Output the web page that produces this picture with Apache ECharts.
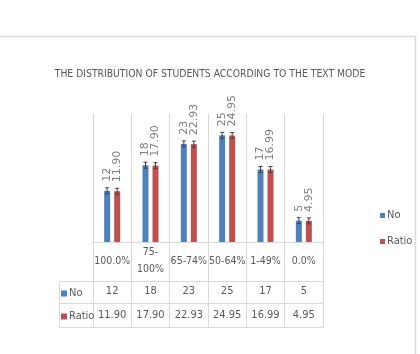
<!DOCTYPE html>
<html>
<head>
<meta charset="utf-8">
<script src="https://cdn.jsdelivr.net/npm/echarts@6/dist/echarts.min.js"></script>
<style>
  html, body { margin: 0; padding: 0; background: #fff; }
  #chart { width: 420px; height: 354px; }
</style>
</head>
<body>
<div id="chart"></div>
<script>
// Data
const categories = ['100.0%', '75-100%', '65-74%', '50-64%', '1-49%', '0.0%'];
const noValues = [12, 18, 23, 25, 17, 5];
const ratioValues = [11.90, 17.90, 22.93, 24.95, 16.99, 4.95];
const errorSize = 0.7;

const narrow = "'Liberation Sans Narrow', 'DejaVu Sans Condensed', 'Liberation Sans', sans-serif";
const textGray = '#595959';
const lineGray = '#d9d9d9';
const blue = '#4F81BD';
const red = '#C0504D';

const barWidth = 6;
const barOffset = 5; // half of bar + gap

// error bar drawn around each bar top
function errorBar(offset) {
    return function (params, api) {
        const idx = api.value(0);
        const val = api.value(1);
        const hi = api.coord([idx, val + errorSize]);
        const lo = api.coord([idx, val - errorSize]);
        const x = hi[0] + offset;
        const style = { stroke: '#404040', lineWidth: 1 };
        return {
            type: 'group',
            children: [
                { type: 'line', shape: { x1: x, y1: hi[1], x2: x, y2: lo[1] }, style: style },
                { type: 'line', shape: { x1: x - 2, y1: hi[1], x2: x + 2, y2: hi[1] }, style: style },
                { type: 'line', shape: { x1: x - 2, y1: lo[1], x2: x + 2, y2: lo[1] }, style: style }
            ]
        };
    };
}

const chart = echarts.init(document.getElementById('chart'));
var option = {
    animation: false,
    title: {
        text: 'THE DISTRIBUTION OF STUDENTS ACCORDING TO THE TEXT MODE',
        left: 'center',
        top: 64,
        textStyle: {
            fontFamily: narrow,
            fontSize: 10.3,
            fontWeight: 'normal',
            color: textGray
        }
    },
    legend: [
        {
            data: ['No', 'Ratio'],
            orient: 'vertical',
            left: 375,
            top: 205,
            itemWidth: 5,
            itemHeight: 5,
            itemGap: 15,
            icon: 'rect',
            selectedMode: false,
            textStyle: { fontFamily: narrow, fontSize: 11, color: textGray, padding: [0, 0, 0, -3] }
        },
        {
            data: ['No', 'Ratio'],
            orient: 'vertical',
            left: 56,
            top: 283,
            itemWidth: 6,
            itemHeight: 6,
            itemGap: 12,
            icon: 'rect',
            selectedMode: false,
            textStyle: { fontFamily: narrow, fontSize: 11, color: textGray, padding: [0, 0, 0, -3] }
        }
    ],
    grid: {
        left: 93,
        right: 97,
        top: 114,
        bottom: 112
    },
    xAxis: [
        {
            type: 'category',
            data: categories,
            axisLine: { show: true, lineStyle: { color: lineGray } },
            axisTick: { show: true, interval: 0, length: 85, lineStyle: { color: lineGray } },
            splitLine: { show: true, interval: 0, lineStyle: { color: lineGray } },
            axisLabel: {
                interval: 0,
                margin: 19,
                verticalAlign: 'middle',
                lineHeight: 17,
                fontFamily: narrow,
                fontSize: 10.5,
                color: textGray,
                formatter: function (v) { return v === '75-100%' ? '75-\n100%' : v; }
            }
        },
        {
            type: 'category',
            position: 'bottom',
            offset: 44,
            data: noValues.map(String),
            axisLine: { show: false },
            axisTick: { show: false },
            axisLabel: { interval: 0, margin: 0, fontFamily: narrow, fontSize: 11, color: textGray }
        },
        {
            type: 'category',
            position: 'bottom',
            offset: 68,
            data: ratioValues.map(function (v) { return v.toFixed(2); }),
            axisLine: { show: false },
            axisTick: { show: false },
            axisLabel: { interval: 0, margin: 0, fontFamily: narrow, fontSize: 11, color: textGray }
        }
    ],
    yAxis: {
        type: 'value',
        min: 0,
        max: 30,
        show: false
    },
    series: [
        {
            name: 'No',
            type: 'bar',
            data: noValues,
            barWidth: barWidth,
            barGap: '67%',
            itemStyle: { color: blue },
            label: {
                show: true,
                position: 'top',
                rotate: 90,
                align: 'left',
                verticalAlign: 'middle',
                distance: 9,
                fontFamily: 'DejaVu Sans',
                fontSize: 11,
                color: '#7f7f7f'
            }
        },
        {
            name: 'Ratio',
            type: 'bar',
            data: ratioValues,
            barWidth: barWidth,
            itemStyle: { color: red },
            label: {
                show: true,
                position: 'top',
                rotate: 90,
                align: 'left',
                verticalAlign: 'middle',
                distance: 9,
                fontFamily: 'DejaVu Sans',
                fontSize: 11,
                color: '#7f7f7f',
                formatter: function (p) { return p.value.toFixed(2); }
            }
        },
        {
            type: 'custom',
            renderItem: errorBar(-barOffset),
            data: noValues.map(function (v, i) { return [i, v]; }),
            z: 10
        },
        {
            type: 'custom',
            renderItem: errorBar(barOffset),
            data: ratioValues.map(function (v, i) { return [i, v]; }),
            z: 10
        }
    ],
    graphic: [
        // chart frame
        { type: 'line', shape: { x1: 0, y1: 36.5, x2: 415.5, y2: 36.5 }, style: { stroke: lineGray, lineWidth: 1.5 } },
        { type: 'line', shape: { x1: 415.5, y1: 36.5, x2: 415.5, y2: 354 }, style: { stroke: lineGray, lineWidth: 1.5 } },
        // data table rows
        { type: 'line', shape: { x1: 59.5, y1: 281.5, x2: 323.5, y2: 281.5 }, style: { stroke: lineGray } },
        { type: 'line', shape: { x1: 59.5, y1: 303.5, x2: 323.5, y2: 303.5 }, style: { stroke: lineGray } },
        { type: 'line', shape: { x1: 59.5, y1: 327.5, x2: 323.5, y2: 327.5 }, style: { stroke: lineGray } },
        { type: 'line', shape: { x1: 59.5, y1: 281.5, x2: 59.5, y2: 327.5 }, style: { stroke: lineGray } }
    ]
};
chart.setOption(option);
</script>
</body>
</html>
